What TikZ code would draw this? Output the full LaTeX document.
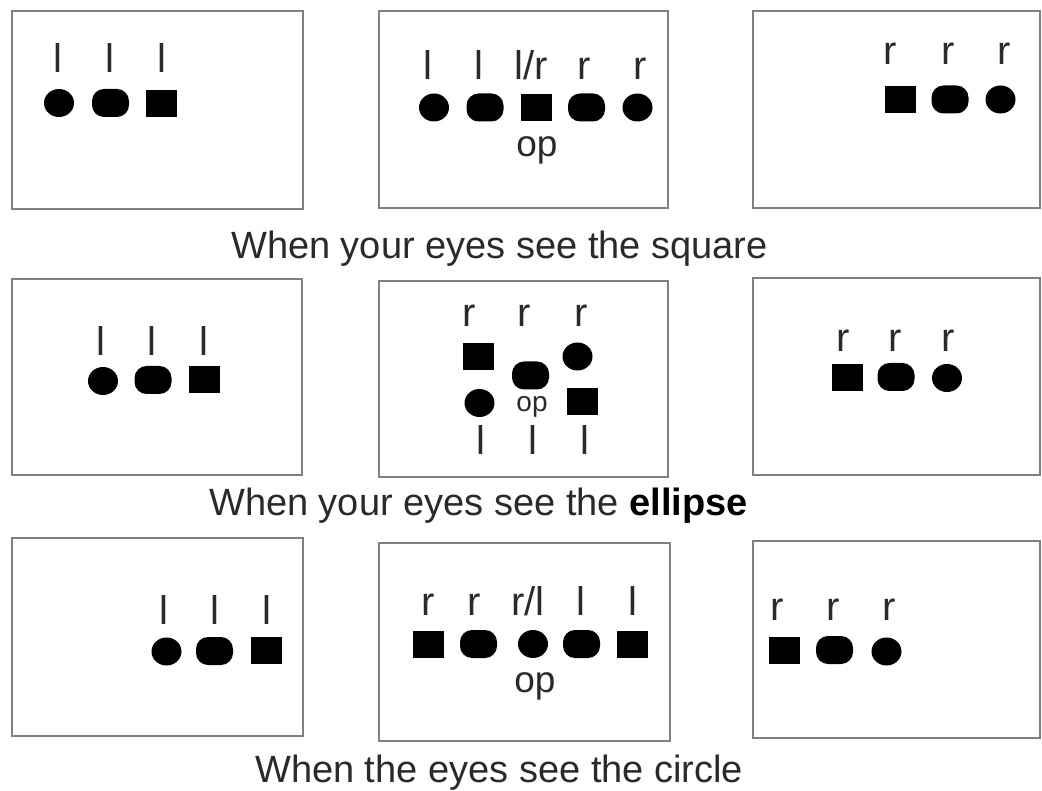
\documentclass[tikz,border=0pt]{standalone}
\usepackage{fontspec}
\setmainfont{Liberation Sans}
\usetikzlibrary{shapes.geometric}
\definecolor{frame}{HTML}{808080}
\definecolor{ink}{HTML}{2A2A2A}
\tikzset{
  panel/.style={draw=frame, line width=1.6pt},
  dot/.style={ellipse, fill=black, draw=none, minimum width=30pt, minimum height=28pt, inner sep=0pt},
  blob/.style={rectangle, rounded corners=12pt, fill=black, draw=none, minimum width=37pt, minimum height=28pt, inner sep=0pt},
  sq/.style={rectangle, fill=black, draw=none, minimum width=31pt, minimum height=27pt, inner sep=0pt},
  lab/.style={anchor=base, inner sep=0pt, text=ink, font=\fontsize{40}{44}\selectfont},
  oplab/.style={anchor=base, inner sep=0pt, text=ink, font=\fontsize{37}{40}\selectfont},
  smallop/.style={anchor=base, inner sep=0pt, text=ink, font=\fontsize{28}{30}\selectfont},
  caption/.style={anchor=base west, inner sep=0pt, text=ink, font=\fontsize{38}{42}\selectfont}
}
\begin{document}
\begin{tikzpicture}[x=1pt, y=-1pt]
\useasboundingbox (0,0) rectangle (1042,791);
\fill[white] (0,0) rectangle (1042,791);

% ---------- row 1: the eyes on the square ----------
\draw[panel] (12,11) rectangle (303,209);
\node[lab] (a1l1) at (58,73) {l};
\node[lab] (a1l2) at (110,73) {l};
\node[lab] (a1l3) at (162,73) {l};
\node[dot]  (a1c) at (59,103) {};
\node[blob] (a1e) at (110.5,103) {};
\node[sq]   (a1s) at (161,103.5) {};

\draw[panel] (379,11) rectangle (668,208);
\node[lab] (a2l1) at (428,80) {l};
\node[lab] (a2l2) at (479,80) {l};
\node[lab] (a2l3) at (531,80) {l/r};
\node[lab] (a2l4) at (584,80) {r};
\node[lab] (a2l5) at (640,80) {r};
\node[dot]  (a2c1) at (434,107.5) {};
\node[blob] (a2e1) at (485,107.5) {};
\node[sq]   (a2s)  at (536,107.5) {};
\node[blob] (a2e2) at (586.5,107.5) {};
\node[dot]  (a2c2) at (637.5,107.5) {};
\node[oplab] (a2op) at (537,157) {op};

\draw[panel] (753,11) rectangle (1040,208);
\node[lab] (a3l1) at (890,65) {r};
\node[lab] (a3l2) at (948,65) {r};
\node[lab] (a3l3) at (1004,65) {r};
\node[sq]   (a3s) at (900,99.5) {};
\node[blob] (a3e) at (950,99.5) {};
\node[dot]  (a3c) at (1000.5,99.5) {};

\node[caption] (cap1) at (231,259) {When your eyes see the square};

% ---------- row 2: the eyes on the ellipse ----------
\draw[panel] (12,279) rectangle (302,475);
\node[lab] (b1l1) at (101,356) {l};
\node[lab] (b1l2) at (152,356) {l};
\node[lab] (b1l3) at (204,356) {l};
\node[dot]  (b1c) at (103,381) {};
\node[blob] (b1e) at (153,380) {};
\node[sq]   (b1s) at (204,380) {};

\draw[panel] (379,281) rectangle (668,477);
\node[lab] (b2r1) at (469,327) {r};
\node[lab] (b2r2) at (524,327) {r};
\node[lab] (b2r3) at (581,327) {r};
\node[sq]   (b2s1) at (478,357) {};
\node[blob] (b2e)  at (530.5,375.5) {};
\node[dot]  (b2c1) at (577.5,356.5) {};
\node[dot]  (b2c2) at (479.5,403) {};
\node[smallop] (b2op) at (532,412) {op};
\node[sq]   (b2s2) at (582,402) {};
\node[lab] (b2l1) at (481,455) {l};
\node[lab] (b2l2) at (533,455) {l};
\node[lab] (b2l3) at (585,455) {l};

\draw[panel] (753,278) rectangle (1040,475);
\node[lab] (b3r1) at (843,352) {r};
\node[lab] (b3r2) at (895,352) {r};
\node[lab] (b3r3) at (948,352) {r};
\node[sq]   (b3s) at (847,378) {};
\node[blob] (b3e) at (896,377) {};
\node[dot]  (b3c) at (947,378) {};

\node[caption] (cap2) at (209,515) {When your eyes see the \textcolor{black}{\bfseries ellipse}};

% ---------- row 3: the eyes on the circle ----------
\draw[panel] (12,538) rectangle (303,736);
\node[lab] (c1l1) at (164,624) {l};
\node[lab] (c1l2) at (215,624) {l};
\node[lab] (c1l3) at (267,624) {l};
\node[dot]  (c1c) at (166.5,651.5) {};
\node[blob] (c1e) at (214.5,651) {};
\node[sq]   (c1s) at (266,650.5) {};

\draw[panel] (379,543) rectangle (670,741);
\node[lab] (c2l1) at (428,615) {r};
\node[lab] (c2l2) at (474,615) {r};
\node[lab] (c2l3) at (528,615) {r/l};
\node[lab] (c2l4) at (581,615) {l};
\node[lab] (c2l5) at (633,615) {l};
\node[sq]   (c2s1) at (428.5,644) {};
\node[blob] (c2e1) at (478.5,644) {};
\node[dot]  (c2c)  at (533,644) {};
\node[blob] (c2e2) at (581.5,644) {};
\node[sq]   (c2s2) at (632.5,644) {};
\node[oplab] (c2op) at (535,692) {op};

\draw[panel] (753,541) rectangle (1040,738);
\node[lab] (c3r1) at (777,620) {r};
\node[lab] (c3r2) at (833,620) {r};
\node[lab] (c3r3) at (889,620) {r};
\node[sq]   (c3s) at (784.5,650) {};
\node[blob] (c3e) at (834.5,650) {};
\node[dot]  (c3c) at (886.5,651.5) {};

\node[caption] (cap3) at (255,782) {When the eyes see the circle};
\end{tikzpicture}
\end{document}
